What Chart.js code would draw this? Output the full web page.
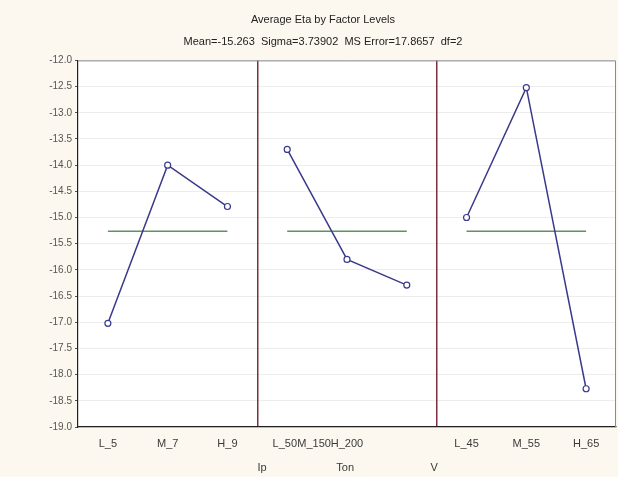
<!DOCTYPE html>
<html>
<head>
<meta charset="utf-8">
<script src="https://cdn.jsdelivr.net/npm/chart.js@4.4.0/dist/chart.umd.min.js"></script>
<style>
  html, body { margin: 0; padding: 0; background: #fcf8ef; }
  #wrap { width: 618px; height: 477px; }
</style>
</head>
<body>
<div id="wrap"><canvas id="effectsChart"></canvas></div>
<script>
const factors = ['Ip', 'Ton', 'V'];
const ipLevels = ['L_5', 'M_7', 'H_9'];
const tonLevels = ['L_50', 'M_150', 'H_200'];
const vLevels = ['L_45', 'M_55', 'H_65'];
const ipValues = [-17.02, -14.0, -14.79];
const tonValues = [-13.7, -15.8, -16.29];
const vValues = [-15.0, -12.52, -18.27];
const grandMean = -15.263;
const yTicks = [-12.0, -12.5, -13.0, -13.5, -14.0, -14.5, -15.0, -15.5, -16.0, -16.5, -17.0, -17.5, -18.0, -18.5, -19.0];

// where Statistica put the squeezed Ton labels and the factor names (x units)
const tonLabelAt = [3.46, 3.95, 4.5];
const factorLabelAt = [3.08, 4.47, 5.96];

const lineColor = '#3a3a8c';
const meanColor = '#5f925f';
const sepColor = '#7d2f3f';
const textColor = '#3a3a3a';

const panels = [ipValues, tonValues, vValues];

const toPoints = (vals, p) => vals.map((v, i) => ({ x: p * 3 + i + 0.5, y: v }));

const datasets = [];
panels.forEach((vals, p) => {
  datasets.push({
    label: factors[p],
    data: toPoints(vals, p),
    borderColor: lineColor,
    borderWidth: 1.5,
    pointRadius: 3,
    pointHoverRadius: 3,
    pointBackgroundColor: '#ffffff',
    pointBorderColor: lineColor,
    pointBorderWidth: 1.2,
    tension: 0,
  });
  datasets.push({
    label: factors[p] + ' mean',
    data: [{ x: p * 3 + 0.5, y: grandMean }, { x: p * 3 + 2.5, y: grandMean }],
    borderColor: meanColor,
    borderWidth: 1.5,
    pointRadius: 0,
    pointHoverRadius: 0,
  });
});

// x ticks: level labels (Ton squeezed as in the original) plus the two separators
const xTickList = [];
ipLevels.forEach((l, i) => xTickList.push({ value: i + 0.5, label: l }));
tonLevels.forEach((l, i) => xTickList.push({ value: tonLabelAt[i], label: l }));
vLevels.forEach((l, i) => xTickList.push({ value: 6 + i + 0.5, label: l }));
xTickList.push({ value: 3, label: '', sep: true });
xTickList.push({ value: 6, label: '', sep: true });
xTickList.sort((a, b) => a.value - b.value);

const plotFrame = {
  id: 'plotFrame',
  beforeDraw(chart) {
    const { ctx, chartArea: a } = chart;
    ctx.save();
    ctx.fillStyle = '#ffffff';
    ctx.fillRect(a.left, a.top, a.right - a.left, a.bottom - a.top);
    ctx.restore();
  },
  afterDraw(chart) {
    const { ctx, chartArea: a } = chart;
    ctx.save();
    ctx.strokeStyle = '#8a8a8a';
    ctx.lineWidth = 1;
    ctx.beginPath();
    ctx.moveTo(a.left, a.top + 0.5);
    ctx.lineTo(a.right - 0.5, a.top + 0.5);
    ctx.lineTo(a.right - 0.5, a.bottom);
    ctx.stroke();
    ctx.restore();
  },
};

const noSidePadding = (axis) => {
  axis.paddingLeft = 0;
  axis.paddingRight = 0;
};

Chart.defaults.font.family = '"Liberation Sans", Arial, sans-serif';
Chart.defaults.color = textColor;

const ctx = document.getElementById('effectsChart').getContext('2d');
new Chart(ctx, {
  type: 'line',
  data: { datasets },
  plugins: [plotFrame],
  options: {
    responsive: true,
    maintainAspectRatio: false,
    animation: false,
    layout: { autoPadding: false, padding: { left: 30, right: 2, bottom: 0 } },
    plugins: {
      legend: { display: false },
      tooltip: { enabled: false },
      title: {
        display: true,
        text: 'Average Eta by Factor Levels',
        color: '#222222',
        font: { size: 11, weight: 'normal' },
        padding: { top: 13, bottom: 6 },
      },
      subtitle: {
        display: true,
        text: 'Mean=-15.263  Sigma=3.73902  MS Error=17.8657  df=2',
        color: '#222222',
        font: { size: 11 },
        padding: { top: 3, bottom: 12 },
      },
    },
    scales: {
      x: {
        type: 'linear',
        position: 'bottom',
        min: 0,
        max: 9,
        afterBuildTicks: (axis) => {
          axis.ticks = xTickList.map((t) => ({ value: t.value }));
        },
        afterFit: (axis) => {
          axis.height = 22;
          noSidePadding(axis);
        },
        ticks: {
          autoSkip: false,
          maxRotation: 0,
          minRotation: 0,
          padding: 10,
          font: { size: 11 },
          color: textColor,
          callback: (value) => {
            const t = xTickList.find((d) => Math.abs(d.value - value) < 1e-6);
            return t ? t.label : '';
          },
        },
        grid: {
          z: 0,
          drawTicks: false,
          lineWidth: 1.5,
          color: (c) => {
            const t = xTickList.find((d) => Math.abs(d.value - c.tick.value) < 1e-6);
            return t && t.sep ? sepColor : 'rgba(0,0,0,0)';
          },
        },
        border: { color: '#222222', width: 1.2 },
      },
      xf: {
        type: 'linear',
        position: 'bottom',
        min: 0,
        max: 9,
        afterBuildTicks: (axis) => {
          axis.ticks = factorLabelAt.map((v) => ({ value: v }));
        },
        afterFit: (axis) => {
          axis.height = 28;
          noSidePadding(axis);
        },
        ticks: {
          autoSkip: false,
          maxRotation: 0,
          minRotation: 0,
          padding: 12,
          font: { size: 11 },
          color: textColor,
          callback: (value) => {
            const i = factorLabelAt.findIndex((v) => Math.abs(v - value) < 1e-6);
            return i >= 0 ? factors[i] : '';
          },
        },
        grid: { display: false, drawTicks: false },
        border: { display: false },
      },
      y: {
        min: -19,
        max: -12,
        afterBuildTicks: (axis) => {
          axis.ticks = yTicks.map((v) => ({ value: v }));
        },
        afterFit: (axis) => {
          axis.width = 48;
        },
        ticks: {
          padding: 3,
          font: { size: 10 },
          color: '#555555',
          callback: (v) => Number(v).toFixed(1),
        },
        grid: {
          color: '#ededed',
          tickColor: '#555555',
          tickLength: 3,
        },
        border: { color: '#222222', width: 1.2 },
      },
    },
  },
});
</script>
</body>
</html>
